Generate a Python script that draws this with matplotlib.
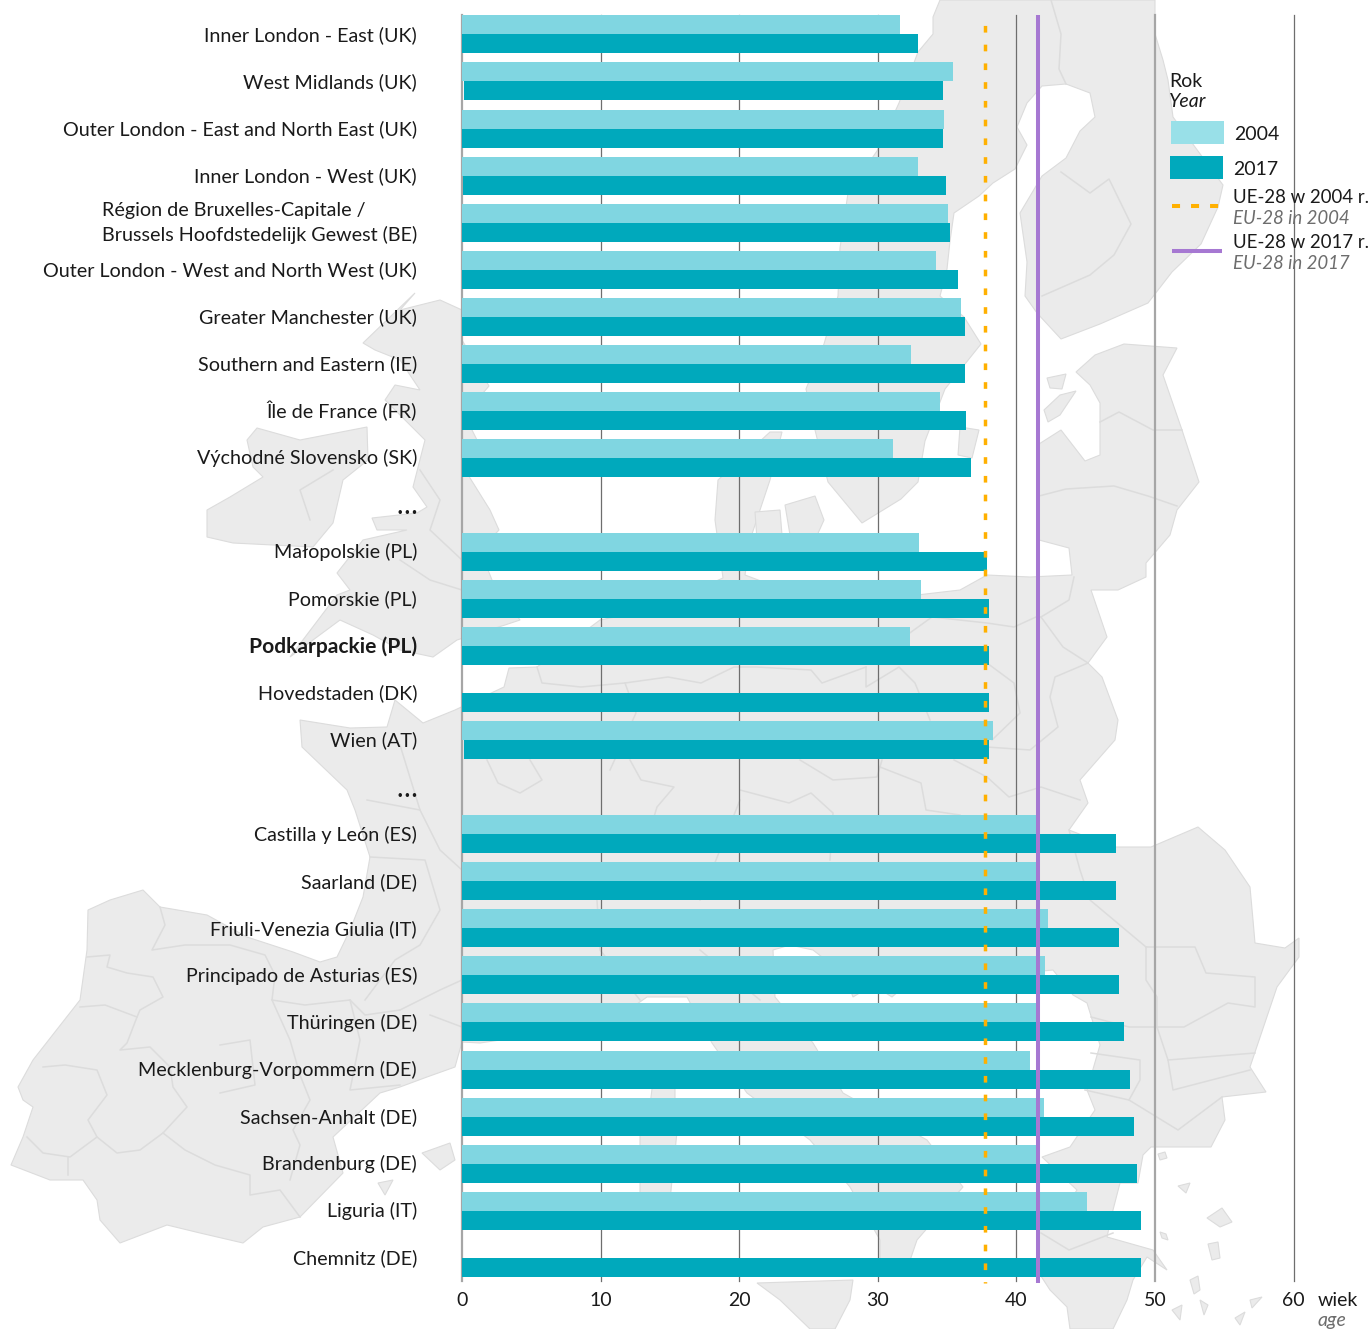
import numpy as np
import matplotlib
matplotlib.use('Agg')
import matplotlib.pyplot as plt
from matplotlib.patches import Polygon, Rectangle
from matplotlib.transforms import ScaledTranslation

plt.rcParams['font.family'] = ['Lato', 'DejaVu Sans']
plt.rcParams['lines.scale_dashes'] = False

# data
regions = [
    'Inner London - East (UK)', 'West Midlands (UK)', 'Outer London - East and North East (UK)',
    'Inner London - West (UK)', 'Région de Bruxelles-Capitale /\nBrussels Hoofdstedelijk Gewest (BE)',
    'Outer London - West and North West (UK)', 'Greater Manchester (UK)', 'Southern and Eastern (IE)',
    'Île de France (FR)', 'Východné Slovensko (SK)', '…',
    'Małopolskie (PL)', 'Pomorskie (PL)', 'Podkarpackie (PL)', 'Hovedstaden (DK)', 'Wien (AT)', '…',
    'Castilla y León (ES)', 'Saarland (DE)', 'Friuli-Venezia Giulia (IT)', 'Principado de Asturias (ES)',
    'Thüringen (DE)', 'Mecklenburg-Vorpommern (DE)', 'Sachsen-Anhalt (DE)', 'Brandenburg (DE)',
    'Liguria (IT)', 'Chemnitz (DE)']
nan = np.nan
age_2004 = [31.6, 35.4, 34.8, 32.9, 35.1, 34.2, 36.0, 32.4, 34.5, 31.1, nan,
            33.0, 33.1, 32.3, nan, 38.3, nan,
            41.5, 41.7, 42.3, 42.1, 41.5, 41.0, 42.0, 41.5, 45.1, nan]
age_2017 = [32.9, 34.7, 34.7, 34.9, 35.2, 35.8, 36.3, 36.3, 36.4, 36.7, nan,
            37.9, 38.0, 38.0, 38.0, 38.0, nan,
            47.2, 47.2, 47.4, 47.4, 47.8, 48.2, 48.5, 48.7, 49.0, 49.0]
start_2017 = [0, 0.15, 0, 0.07, 0, 0, 0, 0, 0, 0, 0,
              0, 0, 0, 0, 0.15, 0,
              0, 0, 0, 0, 0, 0, 0, 0, 0, 0]
eu_2004 = 37.75
eu_2017 = 41.55
age_ticks = [0, 10, 20, 30, 40, 50, 60]

LIGHT = '#80d6e1'
DARK = '#00a9bc'
ORANGE = '#ffb000'
PURPLE = '#a678d2'
TEXT = '#1a1a1a'
GREY = '#6d6d6d'
LAND = '#ebebeb'
EDGE = '#dcdcdc'
FS = 14.2
FS_LEGEND = 13.4
FS_NUM = 14.0

W, H = 1371, 1329

# background map, traced by hand in pixels
continent = [(11,1165),(23,1137),(33,1107),(23,1100),(18,1087),(33,1060),(80,1000),(87,950),(88,910),(110,900),(143,890),
    (160,907),(207,915),(247,937),(293,952),(320,962),(337,957),(350,930),(363,897),(370,857),(355,810),(347,790),
    (302,747),(300,720),(350,728),(387,727),(395,700),(423,723),(455,710),(504,687),(509,668),(537,667),(600,620),
    (650,610),(723,578),(715,520),(718,480),(770,432),(782,432),(770,480),(750,540),(745,575),(790,592),(850,582),
    (900,597),(960,590),(987,575),(1030,577),(1072,575),(1069,548),(1039,540),(1037,500),(1039,444),(1061,430),
    (1085,461),(1100,455),(1100,403),(1090,385),(1076,372),(1095,355),(1124,344),(1177,348),(1163,375),(1182,430),
    (1199,482),(1177,510),(1170,535),(1146,563),(1146,577),(1118,590),(1091,590),(1107,637),(1088,663),(1102,677),
    (1118,720),(1115,740),(1080,780),(1088,803),(1069,830),(1113,847),(1151,847),(1198,827),(1225,850),(1250,887),
    (1253,920),(1255,943),(1285,948),(1299,938),(1299,957),(1277,987),(1250,1067),(1266,1092),(1222,1097),(1225,1120),
    (1211,1147),(1151,1147),(1143,1155),(1138,1183),(1120,1183),(1113,1210),(1107,1237),(1153,1250),(1167,1270),
    (1147,1257),(1133,1280),(1127,1300),(1113,1329),(1070,1329),(1067,1307),(1050,1290),(1037,1270),(1037,1230),
    (1060,1215),(1077,1190),(1042,1157),(1070,1147),(1095,1110),(1087,1090),(1100,1045),(1087,1003),(1073,995),
    (1053,970),(1000,975),(900,990),(892,997),(873,985),(853,997),(845,975),(813,950),(790,945),(773,950),(775,997),
    (813,1043),(843,1093),(927,1140),(963,1187),(917,1240),(905,1275),(880,1275),(880,1240),(850,1187),(810,1140),
    (747,1093),(712,1043),(687,997),(647,997),(600,1030),(500,1040),(480,1043),(462,1042),(455,1067),(427,1077),
    (400,1087),(380,1093),(333,1137),(343,1173),(300,1217),(263,1227),(243,1243),(200,1233),(167,1225),(120,1243),
    (100,1220),(97,1200),(83,1180),(50,1180)]
scandinavia = [(940,0),(933,17),(933,34),(918,52),(899,103),(877,151),(848,193),(840,248),(838,296),(824,344),(806,389),
    (815,430),(828,482),(862,523),(901,499),(918,482),(925,441),(945,389),(981,344),(964,317),(940,296),(947,269),
    (950,241),(954,213),(979,196),(993,183),(1015,169),(1027,145),(1017,127),(1027,103),(1042,86),(1066,84),(1090,93),
    (1095,117),(1080,131),(1066,158),(1042,176),(1020,213),(1027,262),(1025,296),(1037,313),(1061,339),(1100,324),
    (1148,303),(1172,272),(1201,244),(1218,207),(1223,185),(1195,147),(1173,117),(1168,80),(1163,60),(1155,34),(1155,0)]
ireland = [(257,428),(300,440),(367,427),(368,460),(343,480),(333,523),(313,547),(233,543),(207,537),(207,510),(230,497),
    (263,477),(253,467),(247,440)]
britain = [(415,293),(400,310),(440,300),(462,310),(462,340),(489,386),(477,400),(472,430),(477,440),(465,470),(490,510),
    (499,530),(480,550),(492,580),(520,620),(505,625),(457,640),(433,657),(400,650),(373,635),(340,620),(290,657),
    (337,595),(350,590),(337,573),(363,540),(407,530),(377,530),(372,518),(417,513),(427,507),(413,487),(425,440),
    (405,420),(385,400),(395,385),(420,390),(400,360),(375,350),(363,343)]
islands = [
    [(960,427),(979,430),(972,458),(958,455)],
    [(1047,378),(1066,374),(1062,389),(1050,388)],
    [(1044,410),(1060,395),(1076,391),(1060,415),(1048,422)],
    [(755,512),(780,510),(782,535),(757,540)],
    [(785,505),(815,496),(824,520),(815,540),(790,535)],
    [(422,1153),(450,1143),(455,1160),(440,1170)],
    [(378,1183),(393,1180),(385,1195)],
    [(655,1065),(675,1068),(675,1105),(650,1105)],
    [(640,1132),(677,1132),(670,1200),(640,1205)],
    [(757,1283),(853,1280),(850,1300),(835,1329),(810,1329),(780,1300)],
    [(1207,1218),(1222,1208),(1232,1222),(1220,1227)],
    [(1208,1244),(1218,1242),(1220,1258),(1212,1260)],
    [(1158,1154),(1165,1152),(1167,1158),(1160,1160)],
    [(1178,1186),(1190,1183),(1186,1193)],
    [(1160,1232),(1166,1234),(1168,1240),(1162,1238)],
    [(1190,1280),(1198,1276),(1200,1290),(1194,1294)],
    [(1172,1310),(1182,1305),(1180,1320)],
    [(1200,1300),(1208,1305),(1204,1315)],
    [(1250,1300),(1262,1297),(1252,1308)],
    [(1235,1318),(1245,1312),(1240,1325)],
]
borders = [
    [(87,957),(110,955),(107,967),(127,973),(153,977),(163,997),(140,1010),(137,1017),(127,1043),(120,1050),(150,1047),
     (170,1067),(173,1087),(187,1107),(163,1133),(140,1150),(117,1153),(97,1137),(70,1157),(43,1153),(27,1137)],
    [(80,1007),(105,1005),(137,1017)],
    [(43,1067),(65,1065),(97,1070),(107,1095),(88,1120),(97,1137)],
    [(68,1157),(68,1175)],
    [(160,907),(165,925),(152,950),(185,945),(230,945),(265,955),(275,975),(272,1000),(305,1005),(350,1000),(365,1015),(400,1010)],
    [(163,1133),(185,1150),(215,1165),(250,1175),(250,1195),(280,1190),(300,1217)],
    [(272,1000),(290,1040),(300,1075),(310,1100),(293,1130),(300,1145),(290,1180)],
    [(220,1045),(250,1040),(255,1085),(220,1093)],
    [(350,1000),(360,1040),(350,1090),(400,1085)],
    [(370,857),(425,860),(440,910),(420,945),(395,960),(365,1000)],
    [(420,810),(440,850),(462,870)],
    [(367,800),(420,810),(400,745)],
    [(400,1010),(440,990),(462,980)],
    [(430,1015),(470,1030)],
    [(487,760),(498,783),(520,793),(542,780),(530,760)],
    [(630,760),(641,780),(674,787),(657,807),(650,830)],
    [(800,760),(833,780),(877,777),(882,760)],
    [(740,790),(789,803),(811,793),(833,813),(830,860)],
    [(880,767),(921,783),(926,810),(960,815)],
    [(954,760),(987,777),(1009,797),(1041,787),(1080,800)],
    [(1036,617),(1014,627),(987,623),(932,617),(900,640)],
    [(1041,617),(1063,647),(1088,663),(1055,677),(1050,697),(1058,727),(1030,750),(987,747)],
    [(987,663),(1014,683),(1020,713),(992,740)],
    [(1074,577),(1069,600),(1041,617)],
    [(537,667),(542,683),(581,687),(625,683),(668,677),(701,683),(734,667),(756,667),(811,670),(822,683),(866,667)],
    [(625,683),(636,713),(610,770)],
    [(866,667),(866,687),(899,667),(915,683),(930,720)],
    [(740,800),(720,850),(700,900)],
    [(1146,947),(1195,947),(1206,973),(1255,977),(1255,1007),(1228,1003),(1184,1027),(1129,1027),(1091,1017)],
    [(1146,947),(1146,980),(1157,997),(1157,1027),(1168,1060),(1173,1090),(1250,1070)],
    [(1168,1060),(1255,1053)],
    [(1091,1053),(1140,1060),(1140,1080),(1129,1100),(1178,1130),(1222,1097)],
    [(1085,1090),(1129,1100)],
    [(1041,1233),(1069,1250),(1113,1233)],
    [(597,900),(600,950),(640,1000)],
    [(700,950),(760,1000)],
    [(1051,0),(1061,34),(1059,69),(1066,84)],
    [(1042,296),(1090,275),(1114,255),(1131,224),(1109,179),(1090,193),(1061,172)],
    [(1100,422),(1119,412),(1153,430),(1182,430)],
    [(1039,496),(1066,489),(1114,486),(1148,496),(1177,506)],
    [(1069,830),(1080,870),(1090,900),(1146,947)],
    [(420,470),(440,500),(430,530),(462,560)],
    [(400,560),(430,580),(462,590)],
    [(333,470),(300,490),(310,520)],
]

fig = plt.figure(figsize=(W / 100, H / 100), dpi=100, facecolor='white')

bg = fig.add_axes([0, 0, 1, 1], zorder=0)
bg.set_xlim(0, W)
bg.set_ylim(H, 0)
bg.axis('off')
for shape in [continent, scandinavia, ireland, britain] + islands:
    bg.add_patch(Polygon(shape, closed=True, facecolor=LAND, edgecolor=EDGE, linewidth=0.8))
for line in borders:
    xs, ys = zip(*line)
    bg.plot(xs, ys, color=EDGE, lw=1.1)

# main chart, row centres sit on the seam between the two bars
x0, x60 = 462, 1293.5
top, bottom = 15, 1281
seam0 = 34.4
row_px = 47.05
ax = fig.add_axes([x0 / W, 1 - bottom / H, (x60 - x0) / W, (bottom - top) / H], zorder=1)
ax.patch.set_alpha(0)
rows = np.arange(len(regions))
bar_h = 19 / row_px
ax.set_xlim(0, 60)
ax.set_ylim((bottom - seam0) / row_px, (top - seam0) / row_px)

for t in age_ticks:
    heavy = t in (0, 50)
    ax.axvline(t, color='#a6a6a6' if heavy else '#6e6e6e', lw=1.6 if heavy else 0.9, zorder=1, clip_on=False)

ax.barh(rows - bar_h, age_2004, height=bar_h, align='edge', color=LIGHT, zorder=2)
ends = np.array(age_2017) - np.array(start_2017)
ax.barh(rows, ends, left=start_2017, height=bar_h, align='edge', color=DARK, zorder=2)

y_top, y_end = (top - seam0) / row_px, (1283 - seam0) / row_px
ax.plot([eu_2004, eu_2004], [y_top, y_end], color=ORANGE, lw=2.5, clip_on=False, zorder=3,
        linestyle=(6.0, (4.8, 8.7)))
ax.plot([eu_2017, eu_2017], [y_top, y_end], color=PURPLE, lw=2.9, clip_on=False, zorder=4,
        solid_capstyle='butt')

for s in ax.spines.values():
    s.set_visible(False)
ax.set_xticks(age_ticks)
ax.set_yticks(rows)
ax.set_yticklabels(regions, multialignment='left', linespacing=1.47)
ax.tick_params(axis='both', length=0, labelcolor=TEXT)
ax.tick_params(axis='y', labelsize=FS, pad=(x0 - 417) * 0.72)
ax.tick_params(axis='x', labelsize=FS_NUM, pad=(1292.5 - bottom) * 0.72)
for tick_label in ax.get_yticklabels():
    txt = tick_label.get_text()
    if txt == '…':
        tick_label.set_fontsize(20)
    if txt == 'Podkarpackie (PL)':
        tick_label.set_fontweight('bold')
        tick_label.set_fontsize(15.1)
    lift = 5 if '\n' in txt else 1
    tick_label.set_transform(tick_label.get_transform() + ScaledTranslation(0, lift / 100, fig.dpi_scale_trans))

# legend and axis title, placed in pixels on an overlay
top_ax = fig.add_axes([0, 0, 1, 1], zorder=2)
top_ax.set_xlim(0, W)
top_ax.set_ylim(H, 0)
top_ax.axis('off')


def label(x, y, s, grey=False, size=FS_NUM):
    top_ax.text(x, y + 1.5, s, fontsize=size, va='center', ha='left', color=GREY if grey else TEXT,
                style='italic' if grey else 'normal')


top_ax.add_patch(Rectangle((1171, 121), 53, 23, color='#99e0e8', lw=0))
top_ax.add_patch(Rectangle((1170, 156), 53, 23, color=DARK, lw=0))
top_ax.plot([1172, 1219], [206, 206], color=ORANGE, lw=2.9, linestyle=(0, (5.8, 7.9)))
top_ax.plot([1172, 1222], [251, 251], color=PURPLE, lw=2.9, solid_capstyle='butt')
label(1169, 80, 'Rok')
top_ax.text(1169, 101.5, 'Year', fontsize=FS_NUM, va='center', ha='left', color=TEXT, style='italic')
label(1234, 133, '2004')
label(1233, 168, '2017')
label(1233, 196, 'UE-28 w 2004 r.', size=FS_LEGEND)
label(1233, 217, 'EU-28 in 2004', grey=True, size=FS_LEGEND)
label(1233, 241, 'UE-28 w 2017 r.', size=FS_LEGEND)
label(1233, 262, 'EU-28 in 2017', grey=True, size=FS_LEGEND)
label(1318, 1299, 'wiek')
label(1318, 1319, 'age', grey=True)

fig.savefig('out.png', dpi=100)
